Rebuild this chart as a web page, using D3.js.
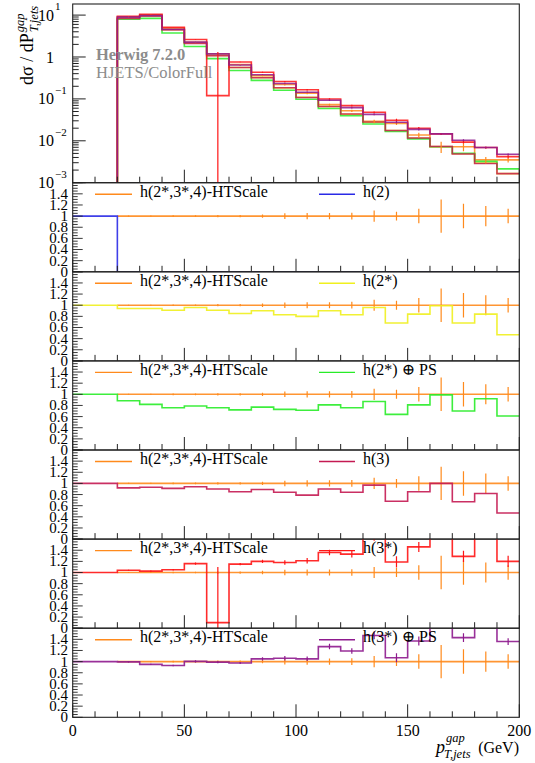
<!DOCTYPE html>
<html><head><meta charset="utf-8">
<script src="https://cdn.jsdelivr.net/npm/d3@7"></script>
<style>
body{margin:0;background:#fff}
svg{display:block}
text{font-family:"Liberation Serif","DejaVu Serif",serif}
</style>
</head><body>
<svg id="c" width="535" height="763"></svg>
<script>
// ---------------- data ----------------
const binEdges = [0,10,20,30,40,50,60,70,80,90,100,110,120,130,140,150,160,170,180,190,200];
const xTicks = [0,50,100,150,200];
const logTicks = [1e-3,1e-2,1e-1,1,10];
const ratioTicks = [0,0.2,0.4,0.6,0.8,1,1.2,1.4];
const ratioTickLabels = ["0","0.2","0.4","0.6","0.8","1","1.2","1.4"];

// reference h(2*,3*,4)-HTScale, dσ/dp (absolute)
const refValues = [0,0,9.0,10.2,4.9,2.25,1.2,0.66,0.36,0.22,0.137,0.073,0.052,0.029,0.026,0.0137,0.0073,0.0072,0.0035,0.0035];
// reference relative uncertainty (ratio units)
const refErrors = [0,0,0.01,0.01,0.015,0.015,0.02,0.02,0.03,0.05,0.055,0.055,0.06,0.10,0.08,0.13,0.30,0.22,0.18,0.13];

const refName = "h(2*,3*,4)-HTScale";
const seriesNames = ["h(2)","h(2*)","h(2*) ⊕ PS","h(3)","h(3*)","h(3*) ⊕ PS"];

// ratios to reference
const ratioH2    = [1,1,0,0,0,0,0,0,0,0,0,0,0,0,0,0,0,0,0,0];
const ratioH2s   = [1,1,0.94,0.94,0.91,0.96,0.91,0.85,0.90,0.83,0.80,0.90,0.83,0.96,0.68,0.84,0.99,0.68,0.84,0.47];
const ratioH2sPS = [1,1,0.885,0.82,0.76,0.79,0.76,0.72,0.77,0.73,0.715,0.81,0.76,0.87,0.64,0.81,0.99,0.70,0.92,0.61];
const ratioH3    = [1,1,0.92,0.93,0.91,0.94,0.90,0.85,0.89,0.84,0.79,0.90,0.84,0.97,0.68,0.85,1.0,0.67,0.82,0.47];
const ratioH3s   = [1,1,1.04,1.025,1.05,1.16,0.10,1.15,1.20,1.18,1.21,1.36,1.33,1.65,1.19,1.46,2.0,1.29,1.97,1.20];
const ratioH3sPS = [1,1,0.995,0.95,0.93,1.005,0.99,0.975,1.05,1.06,1.05,1.27,1.19,1.47,1.07,1.37,2.0,1.43,1.97,1.36];

// uncertainties (ratio units)
const errH3s   = [0,0,0.01,0.01,0.015,0.02,1.0,0.02,0.03,0.04,0.05,0.05,0.06,0.08,0.10,0.09,0.10,0.10,0.10,0.10];
const errH3sPS = [0,0,0.01,0.01,0.015,0.02,0.02,0.02,0.03,0.04,0.04,0.05,0.05,0.07,0.08,0.08,0.10,0.08,0.10,0.06];

// ---------------- style / layout ----------------
const colors = {ref:"#ff8a1c", h2:"#2a2ae6", h2s:"#f0f01e", h2sPS:"#28ec28", h3:"#c41a52", h3s:"#ff1414", h3sPS:"#8e1a8e"};
const series = [
  {key:"h2",    name:seriesNames[0], ratio:ratioH2,    err:null},
  {key:"h2s",   name:seriesNames[1], ratio:ratioH2s,   err:null},
  {key:"h2sPS", name:seriesNames[2], ratio:ratioH2sPS, err:null},
  {key:"h3",    name:seriesNames[3], ratio:ratioH3,    err:null},
  {key:"h3s",   name:seriesNames[4], ratio:ratioH3s,   err:errH3s},
  {key:"h3sPS", name:seriesNames[5], ratio:ratioH3sPS, err:errH3sPS}
];

const X0 = 72.7, X1 = 519.3;
const topY0 = 4, topY1 = 182.7;
const rH = 89.1;

const svg = d3.select("#c");
const x = d3.scaleLinear().domain([binEdges[0], binEdges[binEdges.length-1]]).range([X0, X1]);
const yTop = d3.scaleLog().domain([1e-3, 18.4]).range([topY1, topY0]);

const nb = binEdges.length - 1;

function stepPath(vals, ys, base) {
  // vals: per-bin values, null for undefined; base: y pixel for "from below"
  let d = "", open = false;
  for (let i = 0; i < nb; i++) {
    const v = vals[i];
    const xa = x(binEdges[i]), xb = x(binEdges[i+1]);
    if (v === null) { open = false; continue; }
    const yy = ys(v);
    if (!open) { d += `M${xa},${base !== undefined ? base : yy}V${yy}`; open = true; }
    else d += `V${yy}`;
    d += `H${xb}`;
  }
  return d;
}

function errBars(g, vals, errs, ys, color, lo, width) {
  for (let i = 0; i < nb; i++) {
    if (vals[i] === null || !errs[i]) continue;
    const cx = x((binEdges[i] + binEdges[i+1]) / 2);
    const a = vals[i] - errs[i], b = vals[i] + errs[i];
    g.append("line").attr("x1", cx).attr("x2", cx)
      .attr("y1", a > lo ? ys(a) : ys.range()[0] + 5).attr("y2", ys(b))
      .attr("stroke", color).attr("stroke-width", width);
  }
}

// ---------------- top panel ----------------
const defs = svg.append("defs");
defs.append("clipPath").attr("id","clipTop").append("rect")
  .attr("x", X0).attr("y", topY0).attr("width", X1-X0).attr("height", topY1-topY0);

const gTop = svg.append("g").attr("clip-path","url(#clipTop)");
const refTop = refValues.map(v => v > 0 ? v : null);
gTop.append("path").attr("d", stepPath(refTop, yTop, topY1 + 5))
  .attr("fill","none").attr("stroke", colors.ref).attr("stroke-width",1.6).attr("stroke-opacity",0.85);
series.forEach(s => {
  const vals = refValues.map((v,i) => (v > 0 && s.ratio[i] > 0) ? v * s.ratio[i] : null);
  if (vals.every(v => v === null)) return;
  gTop.append("path").attr("d", stepPath(vals, yTop, topY1 + 5))
    .attr("fill","none").attr("stroke", colors[s.key]).attr("stroke-width",1.6).attr("stroke-opacity",0.85);
});
// error bars top
errBars(gTop, refTop, refValues.map((v,i)=>v*refErrors[i]), yTop, colors.ref, 0, 1.2);
series.forEach(s => {
  if (!s.err) return;
  const vals = refValues.map((v,i) => (v > 0 && s.ratio[i] > 0) ? v * s.ratio[i] : null);
  errBars(gTop, vals, refValues.map((v,i)=>v*s.err[i]), yTop, colors[s.key], 0, 1.2);
});

// top frame
svg.append("rect").attr("x",X0).attr("y",topY0).attr("width",X1-X0).attr("height",topY1-topY0)
  .attr("fill","none").attr("stroke","#222").attr("stroke-width",1.1);

// top y ticks (log)
const gyT = svg.append("g");
for (let e = -3; e <= 1; e++) {
  for (let m = 1; m <= 9; m++) {
    const v = m * Math.pow(10, e);
    if (v > 18.4) continue;
    const yy = yTop(v);
    gyT.append("line").attr("x1",X0).attr("x2",X0 + (m===1?13:6)).attr("y1",yy).attr("y2",yy)
      .attr("stroke","#222").attr("stroke-width",1);
  }
}
logTicks.forEach(v => {
  const yy = yTop(v);
  const t = gyT.append("text").attr("x",54).attr("y",yy).attr("dy","0.35em").attr("text-anchor","end").attr("font-size",16);
  if (v === 1) { t.text("1"); }
  else {
    t.text("10");
    const ex = Math.round(Math.log10(v));
    gyT.append("text").attr("x",55).attr("y",yy-5).attr("font-size",11).text(ex < 0 ? "−" + (-ex) : String(ex));
  }
});
// top x ticks (bottom edge)
function xTicksAt(yb) {
  for (let v = 0; v <= 200; v += 10) {
    const major = xTicks.includes(v);
    svg.append("line").attr("x1",x(v)).attr("x2",x(v)).attr("y1",yb).attr("y2",yb-(major?13:6))
      .attr("stroke","#222").attr("stroke-width",1);
  }
}
xTicksAt(topY1);

// Herwig label
svg.append("text").attr("x",96).attr("y",60).attr("font-size",16.5).attr("font-weight","bold")
  .attr("fill","#8c8c8c").text("Herwig 7.2.0");
svg.append("text").attr("x",96).attr("y",78).attr("font-size",16.5)
  .attr("fill","#8c8c8c").text("HJETS/ColorFull");

// y label
const gl = svg.append("g").attr("transform","translate(33,85) rotate(-90)");
const mt = gl.append("text").attr("x",0).attr("y",0).attr("font-size",18).text("dσ / dP");
const ml = mt.node().getComputedTextLength();
gl.append("text").attr("x",ml+1).attr("y",-9).attr("font-size",12.5).attr("font-style","italic").text("gap");
gl.append("text").attr("x",ml+1).attr("y",5).attr("font-size",12.5).attr("font-style","italic").text("T,jets");

// ---------------- ratio panels ----------------
series.forEach((s, k) => {
  const py0 = topY1 + k * rH, py1 = py0 + rH;
  const yr = d3.scaleLinear().domain([0, 1.6]).range([py1, py0]);
  const cid = "clipR" + k;
  defs.append("clipPath").attr("id",cid).append("rect")
    .attr("x",X0).attr("y",py0).attr("width",X1-X0).attr("height",rH);
  const g = svg.append("g").attr("clip-path",`url(#${cid})`);

  // legend
  const lg = svg.append("g");
  lg.append("line").attr("x1",95).attr("x2",132).attr("y1",py0+11.5).attr("y2",py0+11.5)
    .attr("stroke",colors.ref).attr("stroke-width",1.4);
  lg.append("text").attr("x",140).attr("y",py0+14).attr("font-size",16).text(refName);
  lg.append("line").attr("x1",319).attr("x2",355).attr("y1",py0+11.5).attr("y2",py0+11.5)
    .attr("stroke",colors[s.key]).attr("stroke-width",1.4);
  lg.append("text").attr("x",363).attr("y",py0+14).attr("font-size",16).text(s.name);

  // reference at 1
  const refR = refValues.map(v => v > 0 ? 1 : null);
  g.append("path").attr("d", stepPath(refR, yr))
    .attr("fill","none").attr("stroke",colors.ref).attr("stroke-width",1.6).attr("stroke-opacity",0.9);
  errBars(g, refR, refErrors, yr, colors.ref, -1, 1.2);

  // series
  g.append("path").attr("d", stepPath(s.ratio, yr))
    .attr("fill","none").attr("stroke",colors[s.key]).attr("stroke-width",1.6).attr("stroke-opacity",0.9);
  if (s.err) errBars(g, s.ratio, s.err, yr, colors[s.key], -1, 1.2);

  // frame
  svg.append("rect").attr("x",X0).attr("y",py0).attr("width",X1-X0).attr("height",rH)
    .attr("fill","none").attr("stroke","#222").attr("stroke-width",1.1);

  // y ticks
  for (let j = 0; j <= 32; j++) {
    const v = j * 0.05;
    const major = j % 4 === 0;
    const yy = yr(v);
    svg.append("line").attr("x1",X0).attr("x2",X0+(major?10:5)).attr("y1",yy).attr("y2",yy)
      .attr("stroke","#222").attr("stroke-width",0.9);
  }
  ratioTicks.forEach((v, j) => {
    svg.append("text").attr("x",68).attr("y",yr(v)).attr("dy","0.33em").attr("text-anchor","end")
      .attr("font-size",15).text(ratioTickLabels[j]);
  });
  xTicksAt(py1);
});

// x tick labels
const bottomY = topY1 + 6 * rH;
xTicks.forEach(v => {
  svg.append("text").attr("x",x(v)).attr("y",bottomY+19).attr("text-anchor","middle").attr("font-size",16).text(String(v));
});

// x label
svg.append("text").attr("x",436).attr("y",753).attr("font-size",18).attr("font-style","italic").text("p");
svg.append("text").attr("x",446).attr("y",742).attr("font-size",12.5).attr("font-style","italic").text("gap");
svg.append("text").attr("x",444).attr("y",758).attr("font-size",12.5).attr("font-style","italic").text("T,jets");
svg.append("text").attr("x",519).attr("y",753).attr("text-anchor","end").attr("font-size",16).text("(GeV)");
</script>
</body></html>
